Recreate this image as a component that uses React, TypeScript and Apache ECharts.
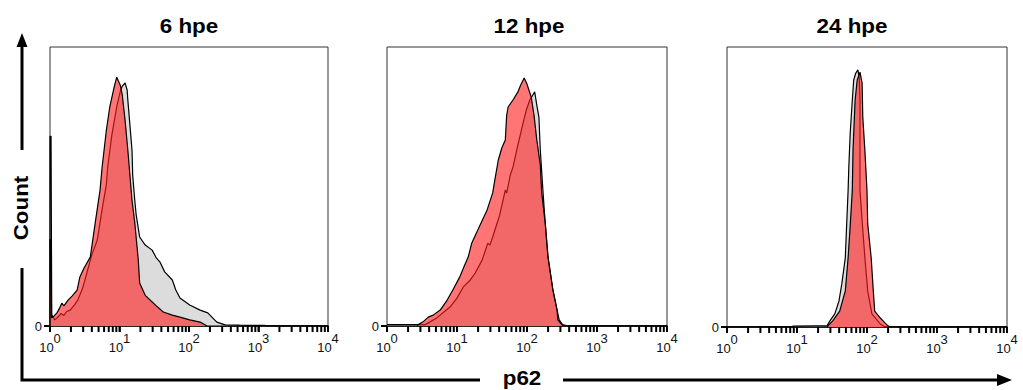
import React, { useEffect, useRef } from "react";
import * as echarts from "echarts";

// x values are log10(p62 intensity), y values are % of max count
const panelTitles = ["6 hpe", "12 hpe", "24 hpe"];
const tickMultipliers = [1, 2, 3, 4, 5, 6, 7, 8, 9];

const control6 = [
  [0, 0], [0, 68], [0.015, 68], [0.025, 4], [0.07, 2.2], [0.115, 3.2], [0.16, 4.5], [0.2, 3.8], [0.24, 5.2],
  [0.29, 5.7], [0.35, 7.5], [0.4, 9.3], [0.47, 13.6], [0.53, 19], [0.6, 25.4], [0.68, 30.8], [0.76, 43.4],
  [0.81, 50.5], [0.83, 57], [0.89, 68.5], [0.96, 78.5], [1.01, 83.9], [1.04, 86], [1.08, 87.1], [1.11, 84.6],
  [1.12, 81], [1.15, 72], [1.18, 63], [1.19, 54], [1.22, 45], [1.24, 39.8], [1.29, 31.9], [1.37, 29],
  [1.47, 27.2], [1.53, 24.4], [1.58, 23], [1.65, 19.4], [1.76, 16.5], [1.81, 12.9], [1.87, 10], [2.01, 7.5],
  [2.16, 5.7], [2.27, 4.7], [2.4, 1.4], [2.52, 0.4], [2.73, 0.3], [3.09, 0.2], [3.12, 0], [4, 0],
];
const infected6 = [
  [0, 0], [0, 31], [0.015, 31], [0.022, 3], [0.043, 3.2], [0.1, 4.7], [0.14, 6.5], [0.17, 8.2], [0.2, 7.2],
  [0.26, 9.3], [0.32, 10.8], [0.39, 12.9], [0.43, 17.6], [0.49, 20.8], [0.58, 24.7], [0.65, 36.9], [0.72, 48.7],
  [0.75, 57], [0.81, 70], [0.86, 78.5], [0.92, 85.3], [0.96, 89.2], [1.01, 86.4], [1.04, 82.8], [1.08, 73.8],
  [1.12, 63], [1.18, 45], [1.22, 37], [1.27, 23.7], [1.29, 15.4], [1.37, 11], [1.44, 9.3], [1.53, 7.2],
  [1.63, 5], [1.76, 3.9], [1.87, 3.2], [2.01, 2.2], [2.16, 1.4], [2.26, 0], [4, 0],
];

const control12 = [
  [0, 0.5], [0.5, 0.5], [0.54, 0.4], [0.71, 2.9], [0.9, 6.8], [1.0, 10], [1.09, 14], [1.19, 16.5], [1.26, 19],
  [1.36, 23.7], [1.44, 29.7], [1.47, 29], [1.51, 31.9], [1.61, 39.8], [1.69, 48.7], [1.71, 47.7], [1.76, 54],
  [1.8, 57], [1.87, 64.9], [1.93, 71.3], [1.99, 77.4], [2.04, 81], [2.11, 83.9], [2.14, 79.2], [2.17, 74.9],
  [2.19, 63], [2.23, 47.7], [2.26, 36.9], [2.3, 24.7], [2.37, 12.9], [2.43, 5.7], [2.46, 2.2], [2.51, 0.4],
  [2.61, 0], [4, 0],
];
const infected12 = [
  [0, 0], [0.44, 0], [0.44, 0.4], [0.51, 1.4], [0.59, 3.2], [0.66, 3.9], [0.76, 5.7], [0.86, 9.3], [0.94, 12.9],
  [1.04, 17.6], [1.11, 21.9], [1.16, 24.7], [1.21, 29.7], [1.33, 36.2], [1.43, 41.6], [1.51, 47.7], [1.54, 52.3],
  [1.59, 59.5], [1.64, 63.8], [1.69, 66.7], [1.71, 75.6], [1.73, 78.5], [1.8, 81], [1.87, 83.9], [1.91, 86.4],
  [1.96, 88.9], [2.0, 86.7], [2.06, 82.1], [2.1, 75.6], [2.14, 66.7], [2.19, 57.7], [2.21, 47.7], [2.26, 36.9],
  [2.3, 24.7], [2.37, 12.9], [2.43, 5.7], [2.44, 2.2], [2.5, 0.4], [2.57, 0], [4, 0],
];

const control24 = [
  [0, 0], [0.93, 0], [0.94, 0.3], [1.26, 0.4], [1.43, 0.4], [1.47, 2.2], [1.54, 4.7], [1.6, 9.3], [1.64, 15.4],
  [1.69, 24.7], [1.71, 36.9], [1.73, 48.7], [1.74, 57], [1.76, 69.2], [1.79, 81], [1.81, 88.2], [1.84, 90.7],
  [1.87, 91.8], [1.89, 88.9], [1.9, 81], [1.9, 73.8], [1.9, 48.7], [1.93, 38], [1.97, 24.7], [2.01, 12.9],
  [2.07, 4.7], [2.19, 1.1], [2.26, 0], [4, 0],
];
const infected24 = [
  [0, 0], [1.44, 0], [1.44, 0.4], [1.51, 2.2], [1.61, 5.7], [1.69, 12.9], [1.73, 24.7], [1.76, 36.2], [1.79, 48.7],
  [1.8, 63], [1.83, 81], [1.86, 88.2], [1.9, 91], [1.93, 87.1], [1.94, 74.9], [1.97, 63], [2.0, 48.7],
  [2.01, 36.9], [2.06, 24.7], [2.09, 12.9], [2.11, 5.7], [2.19, 3.2], [2.26, 1.4], [2.3, 0.4], [2.33, 0], [4, 0],
];

const controls = [control6, control12, control24];
const infecteds = [infected6, infected12, infected24];

const FONT = "Arial, 'Liberation Sans', sans-serif";

export default function App() {
  const ref = useRef<HTMLDivElement>(null);
  useEffect(() => {
    if (!ref.current) return;
    const chart = echarts.init(ref.current, undefined, { renderer: "svg" });
    const tickValues: number[] = [];
    for (let d = 0; d < 4; d++) tickMultipliers.forEach((m) => tickValues.push(d + Math.log10(m)));
    tickValues.push(4);

    const grids = [
      { left: 50, top: 47, width: 278, height: 279 },
      { left: 387, top: 47, width: 280, height: 279 },
      { left: 727, top: 47, width: 280, height: 280 },
    ];
    const titleX = [189, 529, 852];

    const titleStyle = { fontSize: 20, fontWeight: "bold", fontFamily: FONT, fill: "#000", align: "center", verticalAlign: "middle" };

    // log tick marks below each x axis line
    const tickGraphics: any[] = [];
    grids.forEach((g) => {
      const yBase = g.top + g.height;
      tickValues.forEach((v) => {
        const px = g.left + (v / 4) * g.width;
        tickGraphics.push({
          type: "rect",
          silent: true,
          z: 100,
          shape: { x: px - 1, y: yBase, width: 2, height: 6 },
          style: { fill: "#000" },
        });
      });
      tickGraphics.push({
        type: "rect",
        silent: true,
        z: 100,
        shape: { x: g.left - 6, y: yBase - 1, width: 6, height: 2 },
        style: { fill: "#000" },
      });
    });

    const graphics: any[] = [
      ...panelTitles.map((t, i) => ({
        type: "text",
        x: titleX[i],
        y: 26,
        scaleX: 1.12,
        style: { ...titleStyle, text: t },
      })),
      { type: "text", x: 21, y: 208, rotation: Math.PI / 2, scaleX: 1.12, style: { ...titleStyle, text: "Count" } },
      { type: "text", x: 522, y: 378, scaleX: 1.12, style: { ...titleStyle, text: "p62" } },
      { type: "line", shape: { x1: 22, y1: 46, x2: 22, y2: 150 }, style: { stroke: "#000", lineWidth: 3 } },
      { type: "polygon", shape: { points: [[22, 33], [16.5, 47], [27.5, 47]] }, style: { fill: "#000" } },
      { type: "polyline", shape: { points: [[22, 268], [22, 380], [480, 380]] }, style: { stroke: "#000", lineWidth: 3, fill: null } },
      { type: "line", shape: { x1: 563, y1: 380, x2: 999, y2: 380 }, style: { stroke: "#000", lineWidth: 3 } },
      { type: "polygon", shape: { points: [[1012, 380], [997, 374], [997, 386]] }, style: { fill: "#000" } },
      ...tickGraphics,
    ];

    const option: any = {
      animation: false,
      backgroundColor: "#fff",
      grid: grids.map((g) => ({ ...g, show: true, borderColor: "#333", borderWidth: 1, containLabel: false })),
      xAxis: grids.map((_, i) => ({
        gridIndex: i,
        type: "value",
        min: 0,
        max: 4,
        interval: 1,
        axisLine: { show: true, lineStyle: { color: "#000", width: 1.5 } },
        axisTick: { show: true, length: 6, inside: false, lineStyle: { color: "#000", width: 1.5 } },
        splitLine: { show: false },
        axisLabel: {
          margin: 6,
          color: "#111",
          fontFamily: FONT,
          showMinLabel: true,
          showMaxLabel: true,
          formatter: (v: number) => `{b|10}{s|${v}}`,
          rich: {
            b: { fontSize: 13, fontFamily: FONT, color: "#111", padding: [9, 0, 0, 0] },
            s: { fontSize: 13, fontFamily: FONT, color: "#111", verticalAlign: "top" },
          },
        },
      })),
      yAxis: grids.map((_, i) => ({
        gridIndex: i,
        type: "value",
        min: 0,
        max: 100,
        interval: 100,
        axisLine: { show: false },
        splitLine: { show: false },
        axisTick: { show: false },
        axisLabel: {
          margin: 8,
          fontSize: 13,
          fontFamily: FONT,
          color: "#111",
          formatter: (v: number) => (v === 0 ? "0" : ""),
        },
      })),
      series: [
        ...controls.map((d, i) => ({
          type: "line",
          xAxisIndex: i,
          yAxisIndex: i,
          data: d,
          symbol: "none",
          z: 2,
          lineStyle: { color: "#000", width: 1.2 },
          areaStyle: { color: "#DCDCDC", opacity: 1 },
        })),
        ...infecteds.map((d, i) => ({
          type: "line",
          xAxisIndex: i,
          yAxisIndex: i,
          data: d,
          symbol: "none",
          z: 3,
          lineStyle: { color: "#000", width: 1.2 },
          areaStyle: { color: "rgba(255,30,30,0.62)", opacity: 1 },
        })),
      ],
      graphic: graphics,
    };
    chart.setOption(option);

    return () => chart.dispose();
  }, []);
  return <div ref={ref} style={{ position: "absolute", left: 0, top: 0, width: 1023, height: 390 }} />;
}
